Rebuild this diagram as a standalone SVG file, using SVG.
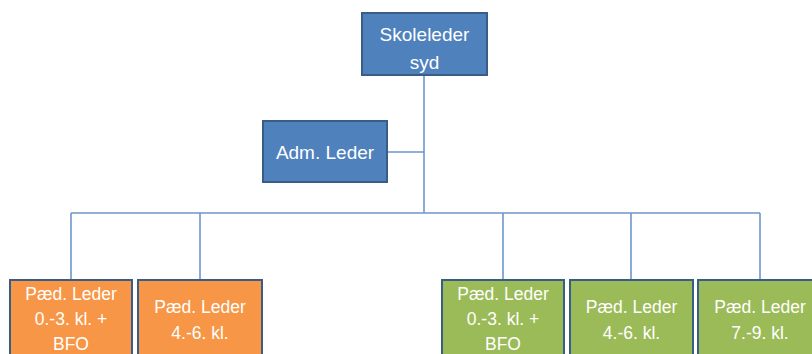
<svg xmlns="http://www.w3.org/2000/svg" width="812" height="354" viewBox="0 0 812 354">
<style>
.box{stroke:#3A5D88;stroke-width:2}
.blue{fill:#4F81BD}
.orange{fill:#F79646}
.green{fill:#9BBB59}
.t{fill:#FFFFFF;font-family:"Liberation Sans",Arial,sans-serif;text-anchor:middle}
.big{font-size:19px}
.sm{font-size:17.5px}
.conn{stroke:#6E95CC;stroke-width:1.6;fill:none}
</style>
<rect width="812" height="354" fill="#FFFFFF"/>
<g id="connectors">
<path class="conn" d="M424 75 V213"/>
<path class="conn" d="M387 152 H424"/>
<path class="conn" d="M71 213 H760"/>
<path class="conn" d="M71 213 V280"/>
<path class="conn" d="M200 213 V280"/>
<path class="conn" d="M503 213 V280"/>
<path class="conn" d="M631 213 V280"/>
<path class="conn" d="M760 213 V280"/>
</g>
<g id="skoleleder">
<rect class="box blue" x="362" y="13" width="125" height="62"/>
<text class="t big" x="424.5" y="41">Skoleleder</text>
<text class="t big" x="424.5" y="69">syd</text>
</g>
<g id="adm">
<rect class="box blue" x="263" y="121" width="124" height="61"/>
<text class="t big" x="325" y="159">Adm. Leder</text>
</g>
<g id="ped-o1">
<rect class="box orange" x="10" y="280" width="122" height="90"/>
<text class="t sm" x="71" y="300">Pæd. Leder</text>
<text class="t sm" x="71" y="325">0.-3. kl. +</text>
<text class="t sm" x="71" y="350">BFO</text>
</g>
<g id="ped-o2">
<rect class="box orange" x="138" y="280" width="124" height="90"/>
<text class="t sm" x="200" y="313">Pæd. Leder</text>
<text class="t sm" x="200" y="339">4.-6. kl.</text>
</g>
<g id="ped-g1">
<rect class="box green" x="442" y="280" width="122" height="90"/>
<text class="t sm" x="503" y="300">Pæd. Leder</text>
<text class="t sm" x="503" y="325">0.-3. kl. +</text>
<text class="t sm" x="503" y="350">BFO</text>
</g>
<g id="ped-g2">
<rect class="box green" x="570" y="280" width="123" height="90"/>
<text class="t sm" x="631.5" y="313">Pæd. Leder</text>
<text class="t sm" x="631.5" y="339">4.-6. kl.</text>
</g>
<g id="ped-g3">
<rect class="box green" x="698" y="280" width="124" height="90"/>
<text class="t sm" x="760" y="313">Pæd. Leder</text>
<text class="t sm" x="760" y="339">7.-9. kl.</text>
</g>
</svg>
